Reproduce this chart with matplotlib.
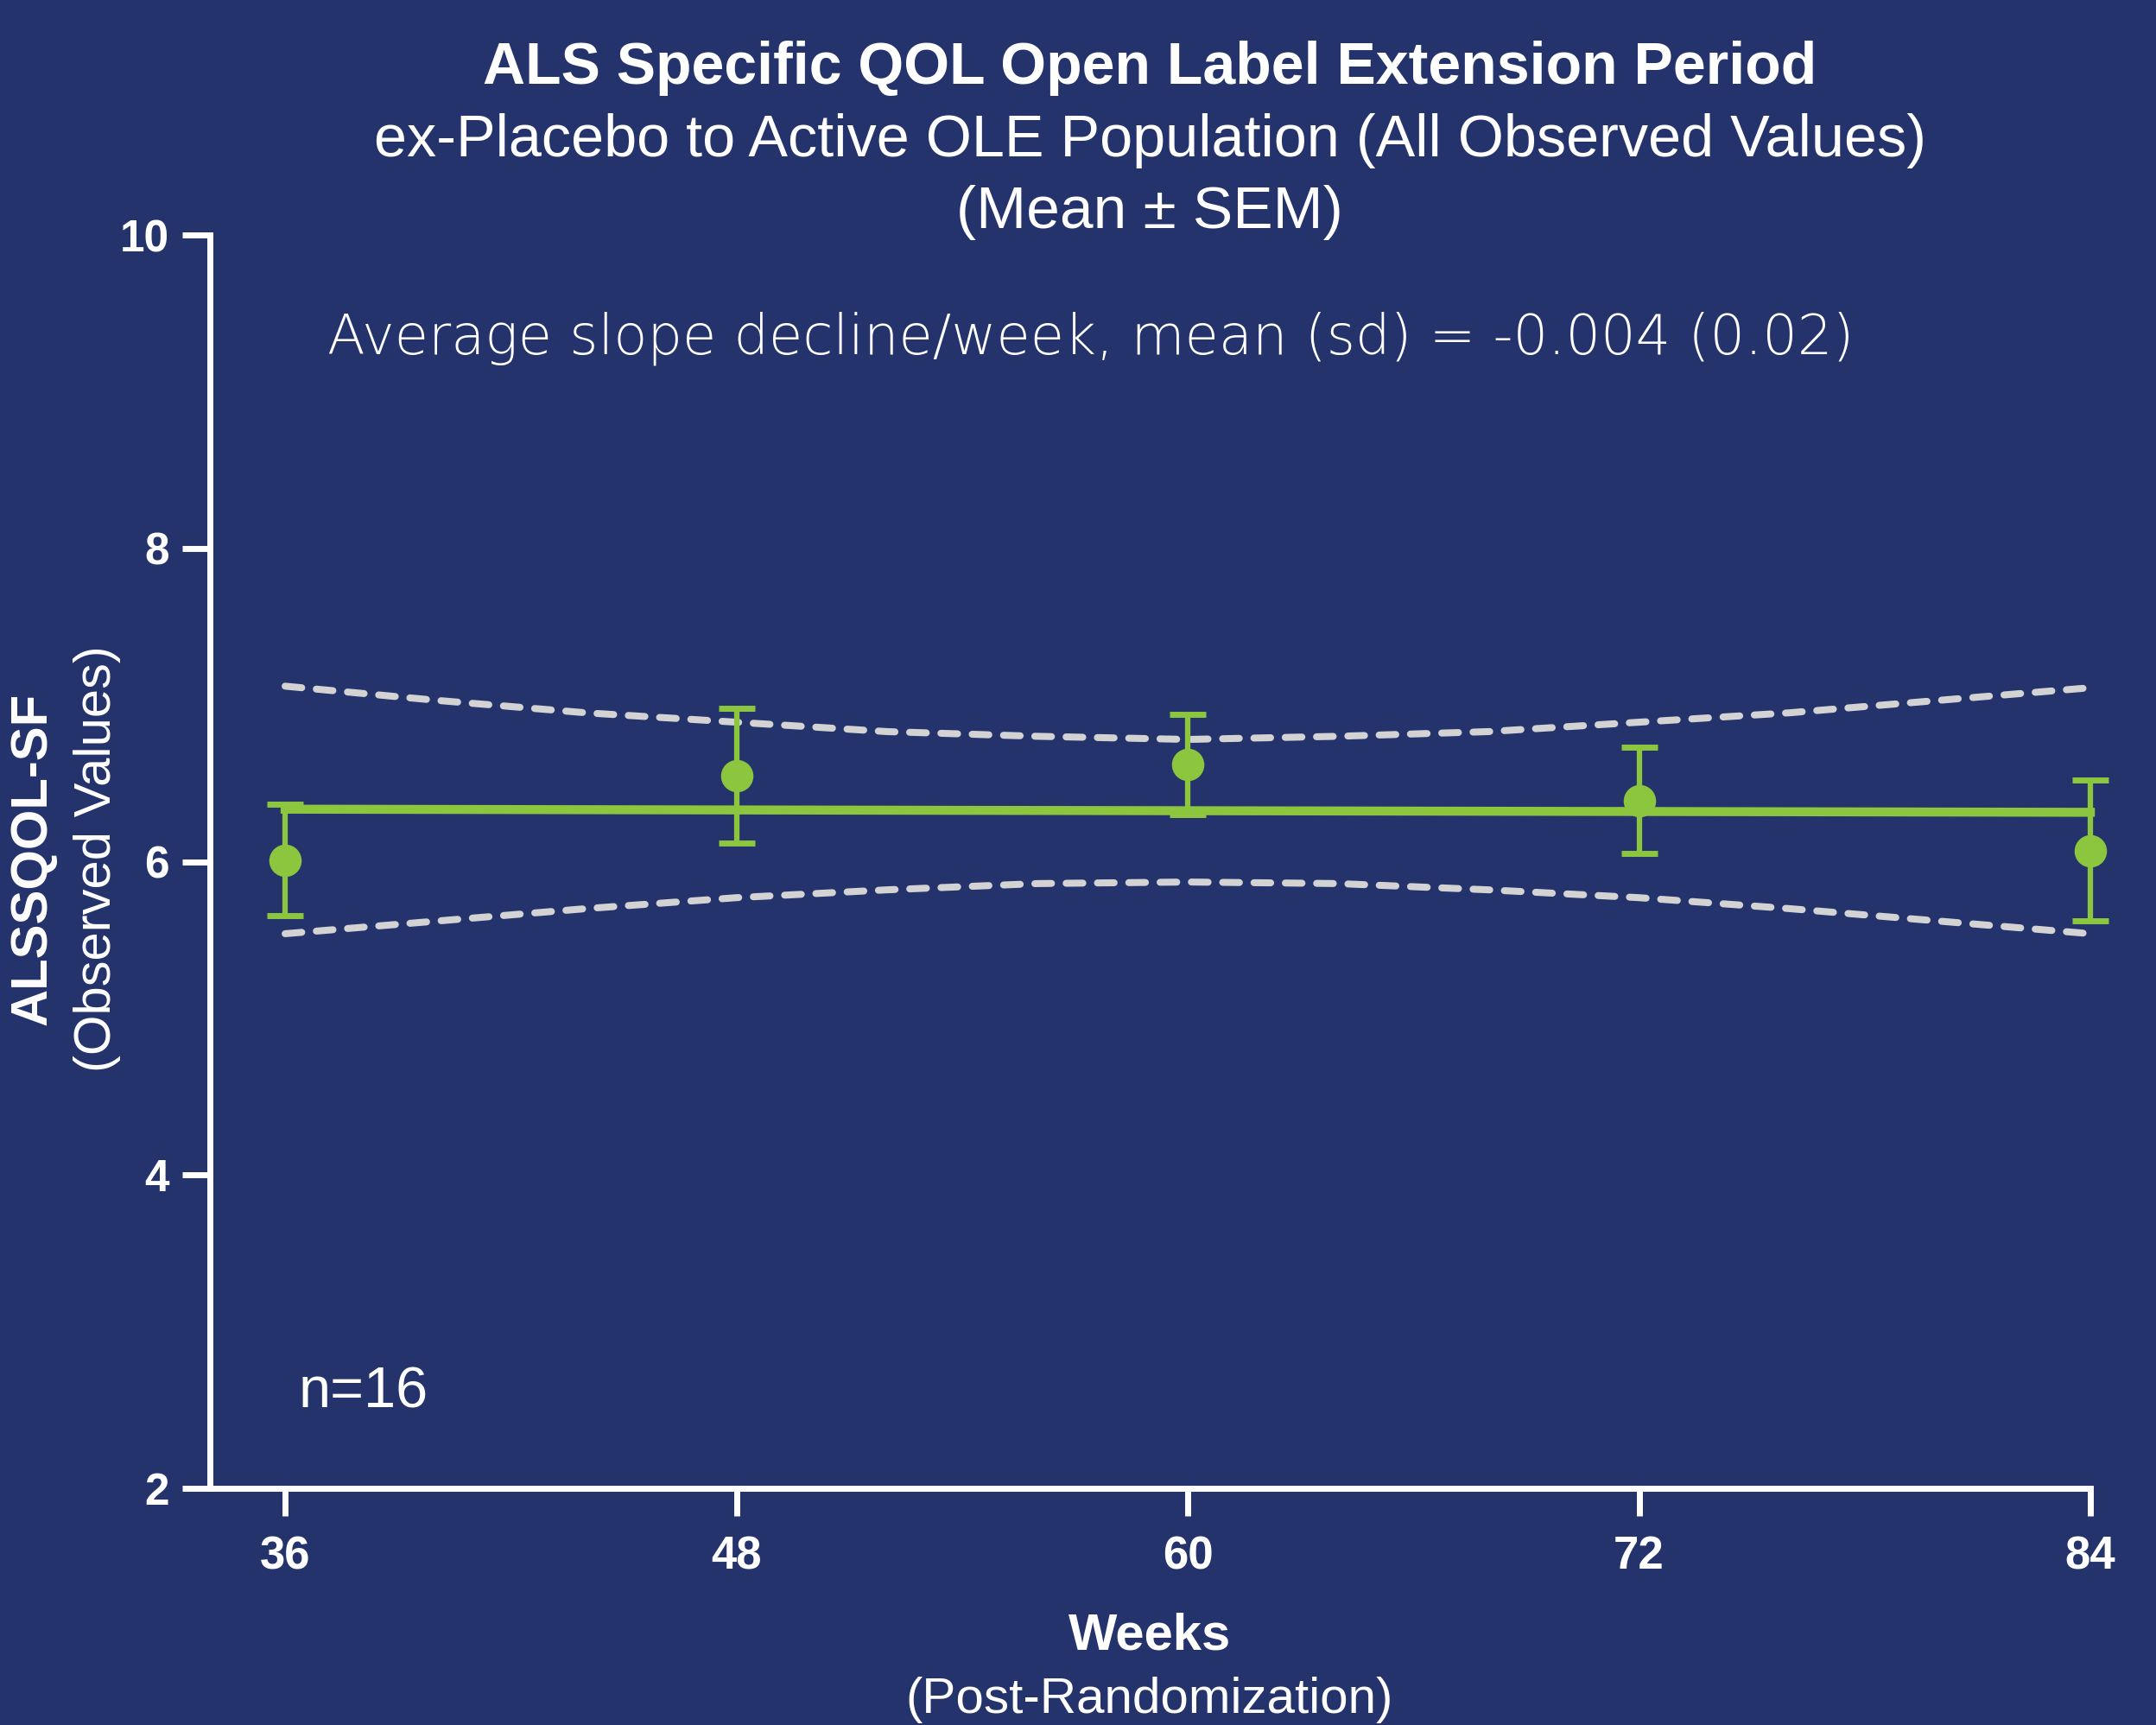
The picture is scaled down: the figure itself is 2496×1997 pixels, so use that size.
import numpy as np
import matplotlib
matplotlib.use("Agg")
import matplotlib.pyplot as plt

# data
weeks = [36, 48, 60, 72, 84]
means = [6.01, 6.55, 6.62, 6.39, 6.07]
sems = [0.355, 0.43, 0.32, 0.34, 0.45]

fit_weeks = [36, 84]
fit_vals = [6.335, 6.315]

band_weeks = [36, 40, 44, 48, 52, 56, 60, 64, 68, 72, 76, 80, 84]
band_upper = [7.12, 7.03, 6.95, 6.89, 6.83, 6.80, 6.78, 6.80, 6.83, 6.89, 6.95, 7.03, 7.11]
band_lower = [5.54, 5.62, 5.70, 5.77, 5.82, 5.86, 5.87, 5.86, 5.82, 5.77, 5.70, 5.62, 5.54]

xticks = [36, 48, 60, 72, 84]
yticks = [2, 4, 6, 8, 10]

bg = '#24336c'
green = '#8cc63f'
W, H = 2496, 1997

plt.rcParams['font.family'] = ['Liberation Sans', 'DejaVu Sans']

fig = plt.figure(figsize=(W/100, H/100), dpi=100, facecolor=bg)
ax = fig.add_axes([243/W, 1 - 1723/H, (2420-243)/W, (1723-272)/H])
ax.set_facecolor(bg)

# confidence band (dashed)
for band in (band_upper, band_lower):
    ax.plot(band_weeks, band, color='#d3d3d3', lw=5.8, dashes=(2.4, 2.1),
            dash_capstyle='round', zorder=2)

# fitted line
ax.plot(fit_weeks, fit_vals, color=green, lw=7.5, zorder=3, clip_on=False)

# mean +- sem
ax.errorbar(weeks, means, yerr=sems, fmt='o', color=green, ms=26, elinewidth=4.5,
            capsize=15, capthick=5, zorder=4, clip_on=False)

ax.set_xlim(34, 84)
ax.set_ylim(2, 10)
ax.set_xticks(xticks)
ax.set_yticks(yticks)
for s in ['top', 'right']:
    ax.spines[s].set_visible(False)
for s in ['left', 'bottom']:
    ax.spines[s].set_color('white')
    ax.spines[s].set_linewidth(5)
ax.tick_params(colors='white', length=23, width=5, labelsize=37)
ax.tick_params(axis='x', pad=16, labelsize=38)
ax.tick_params(axis='y', pad=11)
for lab in ax.get_xticklabels() + ax.get_yticklabels():
    lab.set_fontweight('bold')

# annotations
ax.text(0.047, 0.076, 'n=16', transform=ax.transAxes, color='white',
        fontsize=48, va='center', ha='left')
fig.text(1263/W, 1 - 392/H, 'Average slope decline/week, mean (sd) = -0.004 (0.02)',
         color='white', fontsize=46, ha='center', va='center',
         family=['DejaVu Sans'], fontweight='light')

# titles
fig.text(1331/W, 1 - 79/H, 'ALS Specific QOL Open Label Extension Period', color='white',
         fontsize=49, fontweight='bold', ha='center', va='center')
fig.text(1331/W, 1 - 163/H, 'ex-Placebo to Active OLE Population (All Observed Values)',
         color='white', fontsize=49.2, ha='center', va='center')
fig.text(1331/W, 1 - 246/H, '(Mean \u00b1 SEM)', color='white', fontsize=50,
         ha='center', va='center')

# axis labels
fig.text(38/W, 1 - 994/H, 'ALSSQOL-SF', color='white', fontsize=43, fontweight='bold',
         rotation=90, ha='center', va='center')
fig.text(112/W, 1 - 994/H, '(Observed Values)', color='white', fontsize=43,
         rotation=90, ha='center', va='center')
fig.text(1331/W, 1 - 1894/H, 'Weeks', color='white', fontsize=43, fontweight='bold',
         ha='center', va='center')
fig.text(1331/W, 1 - 1968/H, '(Post-Randomization)', color='white', fontsize=42,
         ha='center', va='center')

fig.savefig('out.png', dpi=100, facecolor=bg)
